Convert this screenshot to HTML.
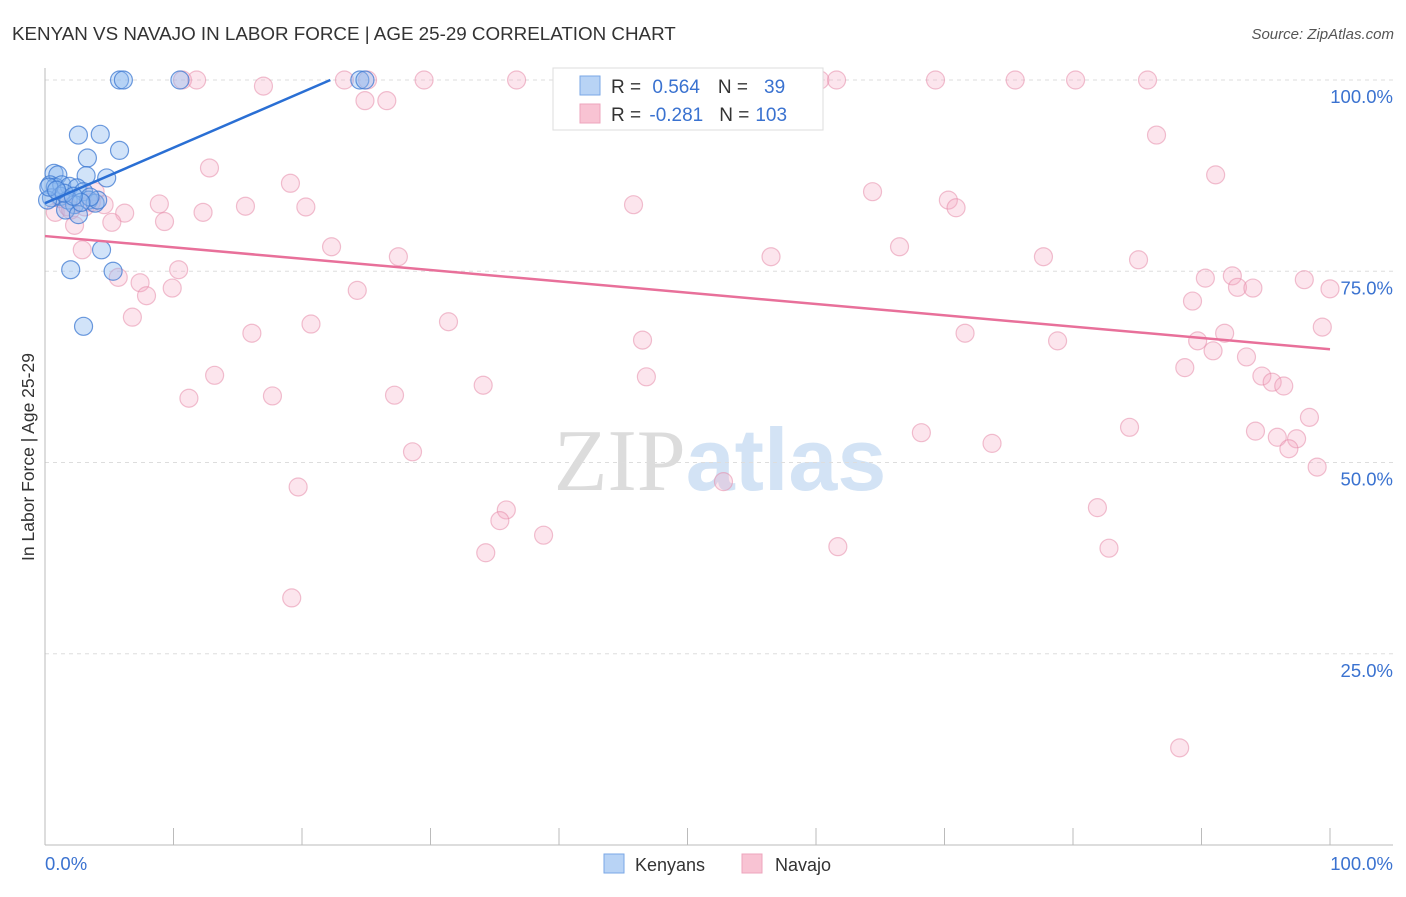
<!DOCTYPE html>
<html><head><meta charset="utf-8">
<style>
body{margin:0;background:#fff;font-family:"Liberation Sans",sans-serif;}
svg text{font-family:"Liberation Sans",sans-serif;}
</style></head>
<body>
<svg id="chart" width="1406" height="892" xmlns="http://www.w3.org/2000/svg">
<text x="12" y="40" font-size="18.8" fill="#333">KENYAN VS NAVAJO IN LABOR FORCE | AGE 25-29 CORRELATION CHART</text>
<text x="1394" y="39" font-size="15" fill="#555" text-anchor="end" font-style="italic">Source: ZipAtlas.com</text>
<text x="720" y="490" font-size="88" text-anchor="middle"><tspan fill="#dcdcdc" font-family="Liberation Serif">ZIP</tspan><tspan fill="#d3e3f5" font-weight="bold">atlas</tspan></text>
<g id="grid"></g>
<g id="axes"></g>
<g id="pinkPts"></g>
<g id="bluePts"></g>
<g id="lines"></g>
<text transform="translate(34,457) rotate(-90)" font-size="17.5" fill="#333" text-anchor="middle">In Labor Force | Age 25-29</text>
<g>
<rect x="553" y="68" width="270" height="62" fill="#fff" stroke="#ddd"/>
<rect x="580" y="76" width="20" height="19" fill="#b8d3f5" stroke="#7aa7e6"/>
<rect x="580" y="104" width="20" height="19" fill="#f8c3d3" stroke="#eea5bd"/>
<text x="611" y="93" font-size="19" fill="#333">R = <tspan fill="#3a72d0" dx="6">0.564</tspan><tspan fill="#333" dx="18">N =</tspan><tspan fill="#3a72d0" dx="16">39</tspan></text>
<text x="611" y="121" font-size="19" fill="#333">R = <tspan fill="#3a72d0" dx="3">-0.281</tspan><tspan fill="#333" dx="16">N =</tspan><tspan fill="#3a72d0" dx="6">103</tspan></text>
</g>
<g>
<rect x="604" y="854" width="20" height="19" fill="#b8d3f5" stroke="#7aa7e6"/>
<text x="635" y="871" font-size="18" fill="#333">Kenyans</text>
<rect x="742" y="854" width="20" height="19" fill="#f8c3d3" stroke="#eea5bd"/>
<text x="775" y="871" font-size="18" fill="#333">Navajo</text>
</g>
</svg>
<script>
const yTicks=[100,75,50,25];
const yTickLabels=["100.0%","75.0%","50.0%","25.0%"];
const xTicks=[0,10,20,30,40,50,60,70,80,90,100];
const blueX=[5.8,6.1,10.5,24.5,24.9,2.6,4.3,5.8,3.3,0.7,1,3.2,4.8,0.4,0.8,1.3,1.9,2.5,3,0.5,1.2,1.8,2.3,3.4,3.9,4.1,1.6,2.6,4.4,2,5.3,3,0.2,3.5,0.3,1.5,2.8,0.9,2.2];
const blueY=[100,100,100,100,100,92.8,92.9,90.8,89.8,87.8,87.6,87.5,87.2,86.3,86,86.3,86.1,85.9,85.4,84.6,84.8,84.3,83.7,84.3,83.9,84.3,83,82.4,77.8,75.2,75,67.8,84.3,84.7,86.0,85.2,84.0,85.6,84.8];
const pinkX=[10.7,11.8,23.3,25.1,29.5,36.7,40.5,60.3,61.6,69.3,75.5,80.2,85.8,17.0,24.9,26.6,86.5,12.8,91.1,19.1,64.4,3.9,70.3,70.9,45.8,8.9,15.6,20.3,12.3,6.2,4.6,5.2,9.3,0.8,1.8,3.1,2.3,2.9,22.3,66.5,27.5,56.5,77.7,85.1,10.4,5.7,7.4,9.9,7.9,24.3,90.3,92.4,98.0,92.8,94.0,100,89.3,6.8,16.1,20.7,31.4,46.5,71.6,78.8,89.7,91.8,90.9,99.4,93.5,88.7,13.2,46.8,34.1,94.7,95.5,96.4,11.2,17.7,27.2,98.4,68.2,84.4,94.2,95.9,97.4,73.7,96.8,28.6,99.0,52.8,19.7,35.9,35.4,81.9,38.8,34.3,61.7,82.8,19.2,88.3,1.2,2.0,3.6];
const pinkY=[100,100,100,100,100,100,100,100,100,100,100,100,100,99.2,97.3,97.3,92.8,88.5,87.6,86.5,85.4,85.4,84.3,83.3,83.7,83.8,83.5,83.4,82.7,82.6,83.7,81.4,81.5,82.7,83.4,83.4,81.0,77.8,78.2,78.2,76.9,76.9,76.9,76.5,75.2,74.2,73.5,72.8,71.8,72.5,74.1,74.4,73.9,72.9,72.8,72.7,71.1,69.0,66.9,68.1,68.4,66.0,66.9,65.9,65.9,66.9,64.6,67.7,63.8,62.4,61.4,61.2,60.1,61.3,60.5,60.0,58.4,58.7,58.8,55.9,53.9,54.6,54.1,53.3,53.1,52.5,51.8,51.4,49.4,47.5,46.8,43.8,42.4,44.1,40.5,38.2,39.0,38.8,32.3,12.7,84.5,83.0,84.0];
const blueTrend=[83.9,0.725];
const pinkTrend=[79.6,64.8];
const NS="http://www.w3.org/2000/svg";
const X=v=>45+v*12.85, Y=v=>845-v*7.65;
function mk(tag,parent,attrs){const e=document.createElementNS(NS,tag);for(const k in attrs)e.setAttribute(k,attrs[k]);parent.appendChild(e);return e;}
const grid=document.getElementById('grid'),axes=document.getElementById('axes');
yTicks.forEach((t,i)=>{
 const l=mk('line',grid,{x1:45,x2:1393,y1:Y(t),y2:Y(t),stroke:'#ddd','stroke-dasharray':'4,4'});
 
 
 const tx=mk('text',axes,{x:1393,y:Y(t)+23,'font-size':18.5,fill:'#3a72d0','text-anchor':'end'});
 tx.textContent=yTickLabels[i];
 
 
});
mk('line',axes,{x1:45,x2:45,y1:68,y2:845,stroke:'#bbb'});
mk('line',axes,{x1:45,x2:1393,y1:845,y2:845,stroke:'#bbb'});
xTicks.forEach(t=>{if(t>0){const l=mk('line',axes,{x1:X(t),x2:X(t),y1:828,y2:845,stroke:'#bbb'});
 
 }});
const x0=mk('text',axes,{x:45,y:870,'font-size':18.5,fill:'#3a72d0'});x0.textContent='0.0%';


const x1=mk('text',axes,{x:1393,y:870,'font-size':18.5,fill:'#3a72d0','text-anchor':'end'});x1.textContent='100.0%';


const pg=document.getElementById('pinkPts');
pinkX.forEach((v,i)=>{const c=mk('circle',pg,{cx:X(v),cy:Y(pinkY[i]),r:9,fill:'rgba(245,170,195,0.3)',stroke:'rgba(230,140,170,0.55)','stroke-width':1.2});
 
 });
const bg=document.getElementById('bluePts');
blueX.forEach((v,i)=>{const c=mk('circle',bg,{cx:X(v),cy:Y(blueY[i]),r:9,fill:'rgba(140,185,240,0.4)',stroke:'rgba(60,120,210,0.75)','stroke-width':1.2});
 
 });
const lg=document.getElementById('lines');
const bEnd=(100-blueTrend[0])/blueTrend[1];
const bl=mk('line',lg,{x1:X(0),y1:Y(blueTrend[0]),x2:X(bEnd),y2:Y(100),stroke:'#2a6fd4','stroke-width':2.5});


const pl=mk('line',lg,{x1:X(0),y1:Y(pinkTrend[0]),x2:X(100),y2:Y(pinkTrend[1]),stroke:'#e8709a','stroke-width':2.5});


</script>
</body></html>
